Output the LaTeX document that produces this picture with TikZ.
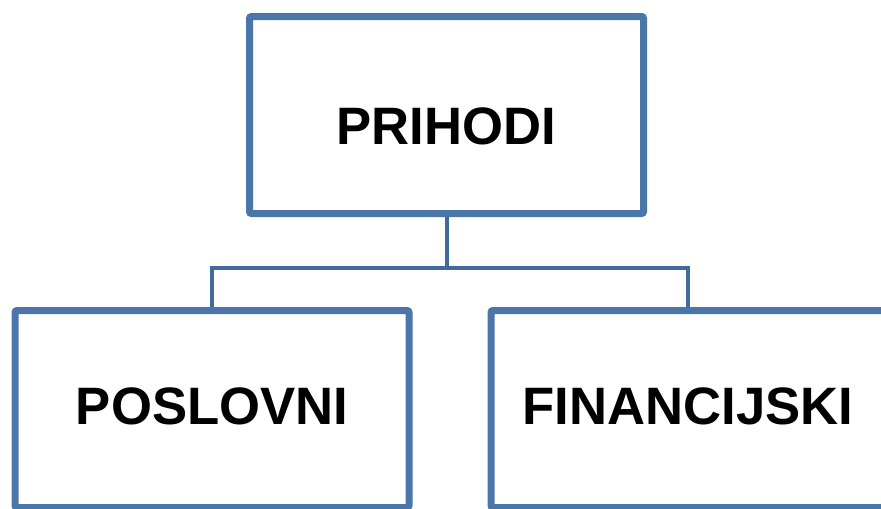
\documentclass[tikz,border=0pt]{standalone}
\usepackage{fontspec}
\setmainfont{Liberation Sans}
\usetikzlibrary{shadows}

\definecolor{boxblue}{RGB}{74,118,170}
\definecolor{lineblue}{RGB}{66,106,156}

\begin{document}
\begin{tikzpicture}[x=0.75pt,y=0.75pt,yscale=-1,xscale=1,
  orgbox/.style={draw=boxblue,fill=white,line width=5.25pt,rounded corners=1.5pt,
    minimum width=295.5pt,minimum height=147.75pt,inner sep=0pt,
    font=\fontsize{39.5}{47}\selectfont\bfseries,
    drop shadow={shadow xshift=1pt,shadow yshift=-1.5pt,opacity=0.25}},
  conn/.style={draw=lineblue,line width=3pt}]
\useasboundingbox (0,0) rectangle (881,508);

%Shape: Rectangle [id:prihodi]
\node [orgbox,text height=43.5pt,text depth=0pt] (prihodi) at (446.5,115) {PRIHODI};
%Shape: Rectangle [id:poslovni]
\node [orgbox,text height=28.5pt,text depth=6pt] (poslovni) at (212,409) {POSLOVNI};
%Shape: Rectangle [id:financijski]
\node [orgbox,text height=28.5pt,text depth=6pt] (financijski) at (688,409) {FINANCIJSKI};

%Straight Lines [id:bus]
\coordinate (bus) at (446.5,268);
\begin{scope}[on background layer/.try]
\draw [conn] (prihodi.south) -- (bus);
\draw [conn] (poslovni.north) |- (bus) -| (financijski.north);
\end{scope}

\end{tikzpicture}
\end{document}
